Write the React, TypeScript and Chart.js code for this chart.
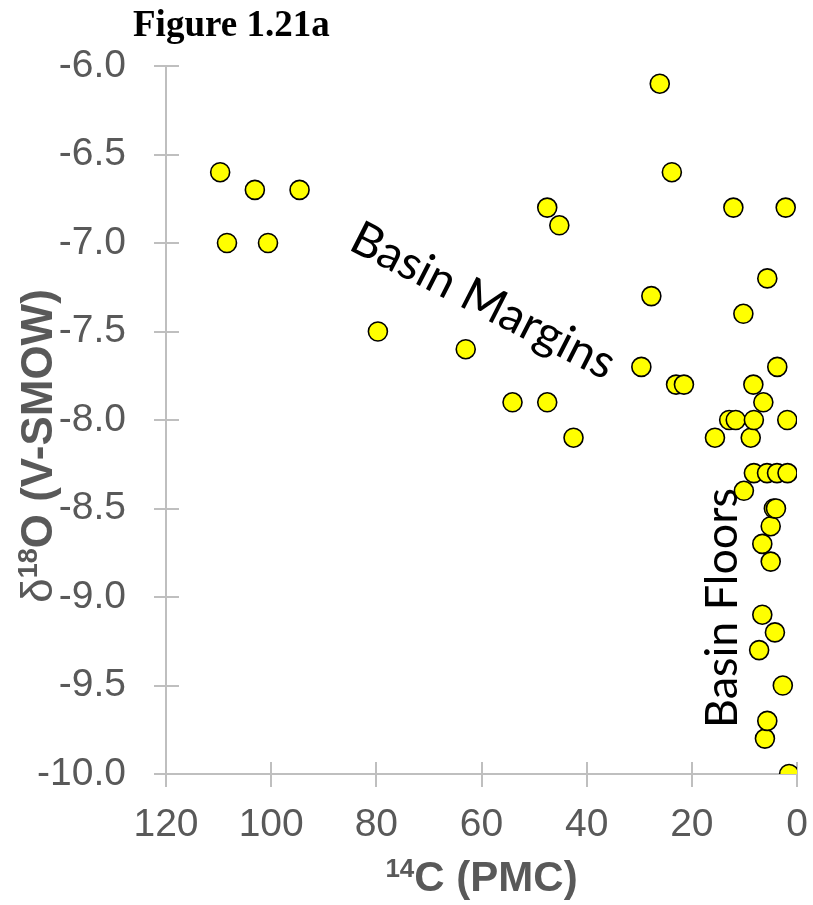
import React, { useEffect, useRef } from "react";
import { Chart, registerables } from "chart.js";

Chart.register(...registerables);

// 14C (PMC) values
const pmc = [
  109.7, 108.4, 103.1, 100.6, 94.6, 79.7, 63.0, 54.1, 47.5, 47.5,
  45.2, 42.5, 29.6, 27.7, 26.1, 23.8, 23.0, 21.5, 15.6, 12.9,
  12.1, 11.65, 10.2, 10.1, 8.8, 8.3, 8.2, 8.2, 7.2, 6.6,
  6.6, 6.4, 6.1, 5.7, 5.65, 5.65, 5.0, 5.0, 4.4, 4.0,
  4.2, 3.8, 3.75, 2.7, 2.15, 1.8, 1.85, 1.5,
];
// δ18O (V-SMOW) values
const d18O = [
  -6.6, -7.0, -6.7, -7.0, -6.7, -7.5, -7.6, -7.9, -6.8, -7.9,
  -6.9, -8.1, -7.7, -7.3, -6.1, -6.6, -7.8, -7.8, -8.1, -8.0,
  -6.8, -8.0, -7.4, -8.4, -8.1, -7.8, -8.0, -8.3, -9.3, -8.7,
  -9.1, -7.9, -9.8, -8.3, -7.2, -9.7, -8.6, -8.8, -8.5, -8.5,
  -9.2, -8.3, -7.7, -9.5, -6.8, -8.3, -8.0, -10.0,
];

const xMin = 0;
const xMax = 120;
const xStep = 20;
const yMin = -10;
const yMax = -6;
const yStep = 0.5;

const chartTitle = "Figure 1.21a";
const xTitleSup = "14";
const xTitleMain = "C (PMC)";
const yTitlePrefix = "δ";
const yTitleSup = "18";
const yTitleMain = "O (V-SMOW)";
const labelMargins = "Basin Margins";
const labelFloors = "Basin Floors";

const GRAY = "#595959";
const AXIS = "#BFBFBF";
const SANS = "'Liberation Sans', Arial, sans-serif";
const CAL = "Lato, 'Open Sans', sans-serif";

function fitFont(ctx: CanvasRenderingContext2D, text: string, family: string, target: number) {
  ctx.font = `100px ${family}`;
  const w = ctx.measureText(text).width;
  return (100 * target) / w;
}

const overlay = {
  id: "overlay",
  beforeDatasetsDraw(chart: any) {
    const ctx: CanvasRenderingContext2D = chart.ctx;
    const xs = chart.scales.x;
    const ys = chart.scales.y;
    const a = chart.chartArea;
    ctx.save();
    // cross tick marks
    ctx.strokeStyle = AXIS;
    ctx.lineWidth = 2;
    ys.ticks.forEach((t: any) => {
      const y = Math.round(ys.getPixelForValue(t.value));
      ctx.beginPath();
      ctx.moveTo(a.left - 12, y);
      ctx.lineTo(a.left + 13, y);
      ctx.stroke();
    });
    xs.ticks.forEach((t: any) => {
      const x = Math.round(xs.getPixelForValue(t.value));
      ctx.beginPath();
      ctx.moveTo(x, a.bottom - 12);
      ctx.lineTo(x, a.bottom + 13);
      ctx.stroke();
    });

    // figure title
    ctx.fillStyle = "#000";
    ctx.font = `bold 37px 'Liberation Serif', 'Times New Roman', serif`;
    ctx.textAlign = "left";
    ctx.textBaseline = "alphabetic";
    ctx.fillText(chartTitle, 133, 36);

    // x axis title
    const mainSize = 42;
    const supSize = 26;
    ctx.fillStyle = GRAY;
    ctx.font = `bold ${supSize}px ${SANS}`;
    const wSup = ctx.measureText(xTitleSup).width;
    ctx.font = `bold ${mainSize}px ${SANS}`;
    const wMain = ctx.measureText(xTitleMain).width;
    const cx = (a.left + a.right) / 2;
    const sx = cx - (wSup + wMain) / 2;
    const by = 891;
    ctx.font = `bold ${supSize}px ${SANS}`;
    ctx.fillText(xTitleSup, sx, by - 14);
    ctx.font = `bold ${mainSize}px ${SANS}`;
    ctx.fillText(xTitleMain, sx + wSup, by);

    // y axis title
    const ySize = 44;
    const ySup = 27;
    ctx.save();
    ctx.translate(52, 446);
    ctx.rotate(-Math.PI / 2);
    ctx.font = `${ySize}px ${SANS}`;
    const wD = ctx.measureText(yTitlePrefix).width;
    ctx.font = `bold ${ySup}px ${SANS}`;
    const wS = ctx.measureText(yTitleSup).width;
    ctx.font = `bold ${ySize}px ${SANS}`;
    const wM = ctx.measureText(yTitleMain).width;
    let px = -(wD + wS + wM) / 2;
    ctx.font = `${ySize}px ${SANS}`;
    ctx.fillText(yTitlePrefix, px, 0);
    px += wD;
    ctx.font = `bold ${ySup}px ${SANS}`;
    ctx.fillText(yTitleSup, px, -15);
    px += wS;
    ctx.font = `bold ${ySize}px ${SANS}`;
    ctx.fillText(yTitleMain, px, 0);
    ctx.restore();

    // annotations
    ctx.fillStyle = "#000";
    ctx.textAlign = "center";
    ctx.save();
    const fm = fitFont(ctx, labelMargins, CAL, 290);
    ctx.font = `${fm}px ${CAL}`;
    ctx.translate(483, 301);
    ctx.rotate((27 * Math.PI) / 180);
    ctx.textBaseline = "middle";
    ctx.fillText(labelMargins, 0, 0);
    ctx.restore();

    ctx.save();
    const ff = fitFont(ctx, labelFloors, CAL, 240);
    ctx.font = `${ff}px ${CAL}`;
    ctx.translate(737, 608);
    ctx.rotate(-Math.PI / 2);
    ctx.textBaseline = "alphabetic";
    ctx.fillText(labelFloors, 0, 0);
    ctx.restore();

    ctx.restore();
  },
};

export default function App() {
  const ref = useRef<HTMLCanvasElement | null>(null);
  useEffect(() => {
    if (!ref.current) return;
    const points = pmc.map((x, i) => ({ x, y: d18O[i] }));
    const chart = new Chart(ref.current, {
      type: "scatter",
      data: {
        datasets: [
          {
            data: points,
            pointRadius: 9.5,
            pointHoverRadius: 9.5,
            pointBackgroundColor: "#FFFF00",
            pointBorderColor: "#000000",
            pointBorderWidth: 1.6,
          },
        ],
      },
      options: {
        animation: false,
        responsive: true,
        maintainAspectRatio: false,
        events: [],
        layout: { padding: { top: 66, right: 16, left: 0, bottom: 0 } },
        plugins: {
          legend: { display: false },
          title: { display: false },
          tooltip: { enabled: false },
        },
        scales: {
          x: {
            type: "linear",
            reverse: true,
            min: xMin,
            max: xMax,
            grid: { display: true, drawOnChartArea: false, drawTicks: false },
            border: { display: true, color: AXIS, width: 2 },
            ticks: {
              stepSize: xStep,
              padding: 28,
              color: GRAY,
              font: { family: SANS, size: 39 },
              maxRotation: 0,
            },
            afterFit: (s: any) => {
              s.height = 131;
              s.paddingLeft = 0;
              s.paddingRight = 0;
            },
          },
          y: {
            type: "linear",
            min: yMin,
            max: yMax,
            grid: { display: true, drawOnChartArea: false, drawTicks: false },
            border: { display: true, color: AXIS, width: 2 },
            ticks: {
              stepSize: yStep,
              padding: 40,
              color: GRAY,
              font: { family: SANS, size: 39 },
              callback: (v: any) => Number(v).toFixed(1),
            },
            afterFit: (s: any) => {
              s.width = 166;
              s.paddingTop = 0;
              s.paddingBottom = 0;
            },
          },
        },
      },
      plugins: [overlay],
    });
    return () => chart.destroy();
  }, []);
  return (
    <div style={{ position: "absolute", left: 0, top: 0, width: 813, height: 905 }}>
      <canvas ref={ref} />
    </div>
  );
}
